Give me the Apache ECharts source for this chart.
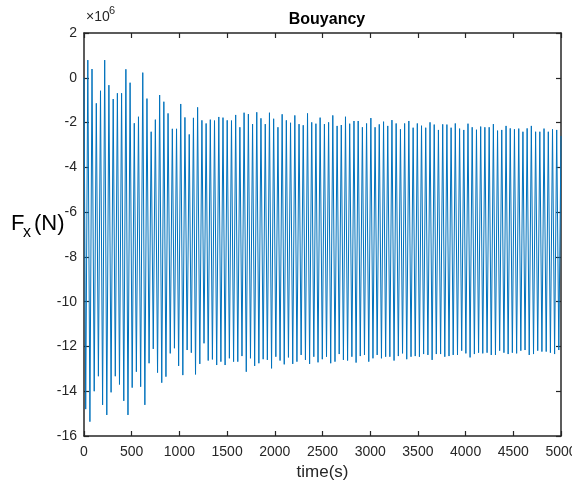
<!DOCTYPE html>
<html>
<head>
<meta charset="utf-8">
<script src="https://cdn.jsdelivr.net/npm/echarts@6/dist/echarts.min.js"></script>
<style>html,body{margin:0;padding:0;background:#fff}#c{width:572px;height:482px}</style>
</head>
<body>
<div id="c"></div>
<script>
// Values in units of 10^6 N
const startPoint = [0, 0.0];
const endPoint = [5000, -2.6];

const troughTimes = [18,62,107,151,195,239,284,328,372,417,461,505,549,594,638,682,726,771,815,859,904,948,992,1036,1081,1125,1169,1214,1258,1302,1346,1391,1435,1479,1524,1568,1612,1656,1701,1745,1789,1833,1878,1922,1966,2011,2055,2099,2143,2188,2232,2276,2321,2365,2409,2453,2498,2542,2586,2631,2675,2719,2763,2808,2852,2896,2940,2985,3029,3073,3118,3162,3206,3250,3295,3339,3383,3428,3472,3516,3560,3605,3649,3693,3738,3782,3826,3870,3915,3959,4003,4047,4092,4136,4180,4225,4269,4313,4357,4402,4446,4490,4535,4579,4623,4667,4712,4756,4800,4845,4889,4933,4977];

const troughValues = [-14.8,-15.36,-14.0,-13.33,-14.61,-15.06,-14.05,-13.33,-13.7,-14.43,-15.06,-13.84,-13.13,-13.8,-14.61,
-12.75,-12.11,-13.17,-13.62,-13.35,-12.31,-12.08,-12.87,-13.28,-12.16,-12.28,-13.25,-12.78,-11.86,-12.63,-12.58,-12.83,-12.68,-12.83,-12.53,-12.68,-12.68,
-12.43,-13.13,-12.53,-12.87,-12.75,-12.57,-12.60,-12.98,-12.46,-12.63,-12.80,-12.49,-12.78,-12.68,-12.38,-12.60,-12.78,-12.46,-12.71,-12.57,-12.46,-12.75,-12.68,-12.34,-12.60,-12.63,-12.46,-12.72,-12.43,-12.38,-12.68,-12.53,-12.38,-12.53,-12.46,-12.46,-12.63,-12.43,
-12.31,-12.57,-12.46,-12.43,-12.46,-12.34,-12.38,-12.60,-12.34,-12.34,-12.46,-12.43,-12.38,-12.38,-12.19,-12.31,-12.49,-12.34,-12.28,-12.31,-12.28,-12.38,-12.38,-12.19,-12.28,-12.34,-12.28,-12.31,-12.19,-12.16,-12.38,-12.34,-12.19,-12.23,-12.23,-12.28,-12.34,-12.16];

const peakTimes = [40,84,129,173,217,261,306,350,394,439,483,527,571,616,660,704,748,793,837,881,926,970,1014,1058,1103,1147,1191,1236,1280,1324,1368,1413,1457,1501,1546,1590,1634,1678,1723,1767,1811,1855,1900,1944,1988,2033,2077,2121,2165,2210,2254,2298,2343,2387,2431,2475,2520,2564,2608,2653,2697,2741,2785,2830,2874,2918,2962,3007,3051,3095,3140,3184,3228,3272,3317,3361,3405,3450,3494,3538,3582,3627,3671,3715,3760,3804,3848,3892,3937,3981,4025,4069,4114,4158,4202,4247,4291,4335,4379,4424,4468,4512,4557,4601,4645,4689,4734,4778,4822,4867,4911,4955];

const peakValues = [0.79,0.39,-1.14,-0.58,0.79,-0.33,-0.95,-0.69,-0.69,0.38,-0.22,-2.03,-1.74,0.23,-0.93,-2.41,-1.87,-0.77,-1.07,-1.59,-2.28,-2.28,-1.17,-1.77,-2.53,-1.79,-1.32,-1.9,-2.04,-1.87,-1.91,-1.75,-1.78,-1.9,-1.91,-1.66,
-2.21,-1.56,-1.62,-2.07,-1.54,-1.81,-2.07,-1.56,-1.83,-2.21,-1.63,-1.9,-2.01,-1.68,-2.07,-2.12,-1.59,-1.99,-2.05,-1.78,-2.07,-1.99,-1.68,-2.15,-2.11,-1.74,-2.05,-1.93,-1.93,-2.21,-2.04,-1.80,-2.21,-2.08,-1.96,-2.15,-1.89,-2.04,
-2.30,-2.04,-1.93,-2.23,-2.04,-2.14,-2.23,-1.99,-2.09,-2.33,-2.08,-2.09,-2.23,-2.04,-2.27,-2.33,-2.05,-2.21,-2.32,-2.18,-2.21,-2.21,-2.07,-2.36,-2.33,-2.15,-2.26,-2.30,-2.27,-2.41,-2.26,-2.15,-2.41,-2.41,-2.27,-2.41,-2.30,-2.33];

const xTicks = {min: 0, max: 5000, interval: 500};
const yTicks = {min: -16, max: 2, interval: 2};

// Build the series: start, then alternating trough/peak, then end
const data = [startPoint];
for (let i = 0; i < troughTimes.length; i++) {
  data.push([troughTimes[i], troughValues[i]]);
  if (i < peakTimes.length) data.push([peakTimes[i], peakValues[i]]);
}
data.push(endPoint);

const FONT = '"Liberation Sans", Arial, Helvetica, sans-serif';
const AX = '#262626';
const plain = v => String(v);

function axisCommon(show, margin) {
  return {
    axisLine: {show: true, onZero: false, lineStyle: {color: AX, width: 1.5}},
    axisTick: {show: true, inside: true, length: 5, lineStyle: {color: AX, width: 1.2}},
    axisLabel: {show: show, color: AX, fontSize: 14, fontFamily: FONT, margin: margin || 8, formatter: plain, hideOverlap: false},
    splitLine: {show: false}
  };
}

const chart = echarts.init(document.getElementById('c'), null, {renderer: 'canvas'});
chart.setOption({
  animation: false,
  backgroundColor: '#ffffff',
  title: {
    text: 'Bouyancy', left: 322, top: 7, textAlign: 'center',
    textStyle: {fontSize: 16, fontWeight: 'bold', color: '#000', fontFamily: FONT}
  },
  grid: {left: 84, right: 11, top: 33, bottom: 46, containLabel: false, outerBoundsMode: 'none'},
  xAxis: [
    Object.assign({type: 'value', position: 'bottom', min: xTicks.min, max: xTicks.max, interval: xTicks.interval,
      name: 'time(s)', nameLocation: 'middle', nameGap: 26,
      nameTextStyle: {fontSize: 17, color: AX, fontFamily: FONT}}, axisCommon(true, 9)),
    Object.assign({type: 'value', position: 'top', min: xTicks.min, max: xTicks.max, interval: xTicks.interval}, axisCommon(false))
  ],
  yAxis: [
    Object.assign({type: 'value', position: 'left', min: yTicks.min, max: yTicks.max, interval: yTicks.interval}, axisCommon(true, 7)),
    Object.assign({type: 'value', position: 'right', min: yTicks.min, max: yTicks.max, interval: yTicks.interval}, axisCommon(false))
  ],
  graphic: [
    {type: 'text', left: 86, top: 10, style: {text: '×10', fontSize: 14, fill: AX, fontFamily: FONT}},
    {type: 'text', left: 109, top: 5, style: {text: '6', fontSize: 11, fill: AX, fontFamily: FONT}},
    {type: 'text', left: 11, top: 213, style: {text: 'F', fontSize: 22, fill: '#000', fontFamily: FONT}},
    {type: 'text', left: 23, top: 225, style: {text: 'x', fontSize: 16, fill: '#000', fontFamily: FONT}},
    {type: 'text', left: 34, top: 213, style: {text: '(N)', fontSize: 22, fill: '#000', fontFamily: FONT}}
  ],
  series: [{
    type: 'line', xAxisIndex: 0, yAxisIndex: 0, data: data,
    showSymbol: false, symbol: 'none', sampling: null,
    lineStyle: {color: '#0072BD', width: 1},
    clip: true
  }]
});
</script>
</body>
</html>
